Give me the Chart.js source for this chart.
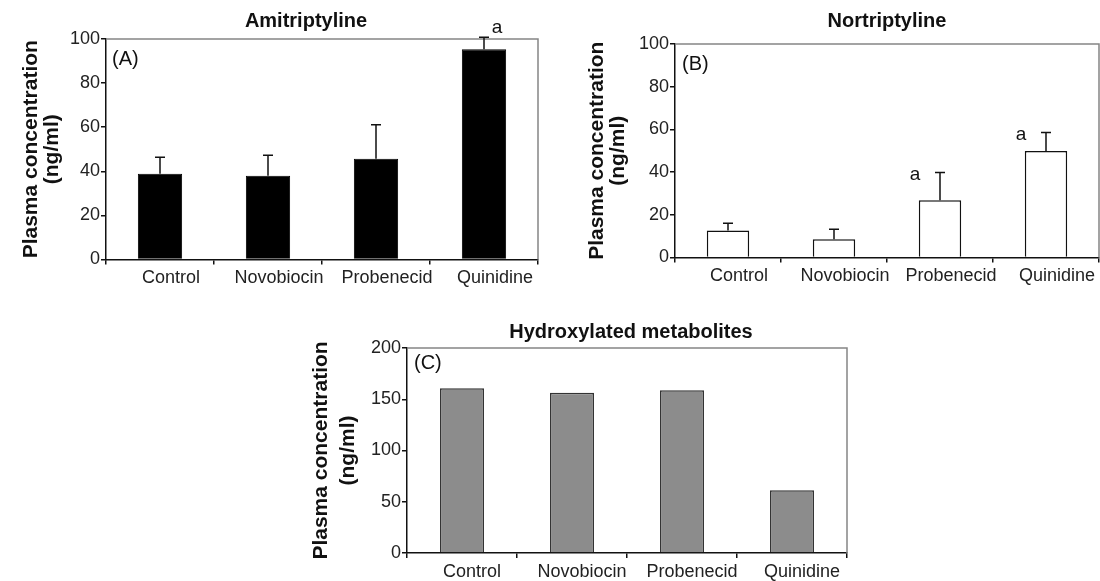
<!DOCTYPE html>
<html>
<head>
<meta charset="utf-8">
<script src="https://cdn.jsdelivr.net/npm/chart.js@4.4.1/dist/chart.umd.min.js"></script>
<style>
  body { margin: 0; background: #fff; overflow: hidden; }
  #wrap { position: relative; width: 1100px; height: 581px; overflow: hidden; }
  canvas { position: absolute; }
</style>
</head>
<body>
<div id="wrap">
  <canvas id="chartA" width="560" height="290" style="left:0;top:0"></canvas>
  <canvas id="chartB" width="540" height="290" style="left:560px;top:0"></canvas>
  <canvas id="chartC" width="580" height="291" style="left:280px;top:290px"></canvas>
</div>
<script>
var groups = ['Control', 'Novobiocin', 'Probenecid', 'Quinidine'];

// (A) amitriptyline, mean and SD (upper bar only)
var amiMean = [38.9, 38.0, 45.7, 95.3];
var amiErr = [7.5, 9.3, 15.4, 5.5];
var amiSig = ['', '', '', 'a'];

// (B) nortriptyline
var norMean = [12.6, 8.6, 26.8, 49.9];
var norErr = [3.4, 4.6, 13.0, 8.6];
var norSig = ['', '', 'a', 'a'];

// (C) hydroxylated metabolites, no error bars
var hydMean = [160.7, 156.4, 158.7, 61.2];

var FONT = '"Liberation Sans", Arial, Helvetica, sans-serif';
Chart.defaults.font.family = FONT;

// frame, error bars, "a" marks, panel letter and title
var extras = {
  id: 'extras',
  afterDatasetsDraw: function(chart, args, o) {
    var ctx = chart.ctx, area = chart.chartArea;
    var xs = chart.scales.x, ys = chart.scales.y;
    ctx.save();
    ctx.strokeStyle = '#858585';
    ctx.lineWidth = 1.5;
    ctx.beginPath();
    ctx.moveTo(area.left, area.top);
    ctx.lineTo(area.right, area.top);
    ctx.lineTo(area.right, area.bottom);
    ctx.stroke();

    if (o.err) {
      ctx.strokeStyle = '#111';
      ctx.fillStyle = '#111';
      ctx.lineWidth = 1.5;
      ctx.font = '19px ' + FONT;
      ctx.textAlign = 'center';
      ctx.textBaseline = 'middle';
      o.mean.forEach(function(m, i) {
        var cx = xs.getPixelForValue(i);
        var y0 = ys.getPixelForValue(m);
        var y1 = ys.getPixelForValue(m + o.err[i]);
        ctx.beginPath();
        ctx.moveTo(cx, y0);
        ctx.lineTo(cx, y1);
        ctx.moveTo(cx - 5, y1);
        ctx.lineTo(cx + 5, y1);
        ctx.stroke();
        if (o.sig && o.sig[i]) {
          ctx.fillText(o.sig[i], cx + o.sigDx, y1 + o.sigDy);
        }
      });
    }

    ctx.fillStyle = '#111';
    ctx.font = '20px ' + FONT;
    ctx.textAlign = 'left';
    ctx.textBaseline = 'middle';
    ctx.fillText(o.panel, area.left + o.panelDx, area.top + o.panelDy);

    ctx.font = 'bold 20px ' + FONT;
    ctx.textAlign = 'center';
    ctx.fillText(o.title, (area.left + area.right) / 2 + o.titleDx, o.titleY);
    ctx.restore();
  }
};

function makeChart(id, values, bar, yMax, yStep, box, titleOpt, extraOpts) {
  return new Chart(document.getElementById(id), {
    type: 'bar',
    data: {
      labels: groups,
      datasets: [{
        data: values,
        backgroundColor: bar.fill,
        borderColor: bar.line,
        borderWidth: bar.width,
        barPercentage: bar.pct,
        categoryPercentage: 1
      }]
    },
    options: {
      responsive: false,
      animation: false,
      layout: { padding: { top: box.top, right: box.right, left: 0, bottom: 0 } },
      plugins: {
        legend: { display: false },
        tooltip: { enabled: false },
        extras: extraOpts
      },
      scales: {
        x: {
          offset: true,
          grid: { offset: true, drawOnChartArea: false, tickLength: 5, color: '#111', lineWidth: 1.5 },
          border: { color: '#111', width: 1.5 },
          ticks: { color: '#222', font: { size: 18 }, padding: 3, maxRotation: 0, autoSkip: false,
                   labelOffset: box.lo },
          afterFit: function(s) { s.height = box.xh; }
        },
        y: {
          min: 0,
          max: yMax,
          ticks: { stepSize: yStep, color: '#222', font: { size: 18 }, padding: 1 },
          grid: { drawOnChartArea: false, tickLength: 5, color: '#111', lineWidth: 1.5 },
          border: { color: '#111', width: 1.5 },
          title: {
            display: true,
            text: ['Plasma concentration', '(ng/ml)'],
            color: '#111',
            font: { size: 21, weight: 'bold', lineHeight: titleOpt.lh },
            padding: { top: titleOpt.pad, bottom: 0 }
          },
          afterFit: function(s) { s.width = box.yw; }
        }
      }
    },
    plugins: [extras]
  });
}

makeChart('chartA', amiMean,
  { fill: '#000', line: '#000', width: 1, pct: 0.41 },
  100, 20,
  { top: 39, right: 22, xh: 30.5, yw: 106, lo: 11 },
  { lh: 1, pad: 21.2 },
  { err: amiErr, mean: amiMean, sig: amiSig, sigDx: 13, sigDy: -9,
    panel: '(A)', panelDx: 6, panelDy: 20, title: 'Amitriptyline', titleDx: -16, titleY: 21 });

makeChart('chartB', norMean,
  { fill: '#fff', line: '#111', width: 1.5, pct: 0.40 },
  100, 20,
  { top: 44, right: 1, xh: 32.5, yw: 115, lo: 11 },
  { lh: 1, pad: 26.5 },
  { err: norErr, mean: norMean, sig: norSig, sigDx: -25, sigDy: 2,
    panel: '(B)', panelDx: 7, panelDy: 20, title: 'Nortriptyline', titleDx: 0, titleY: 21 });

makeChart('chartC', hydMean,
  { fill: '#8c8c8c', line: '#333', width: 1.5, pct: 0.40 },
  200, 50,
  { top: 58, right: 13, xh: 28, yw: 127, lo: 10 },
  { lh: 1.25, pad: 28.5 },
  { panel: '(C)', panelDx: 7, panelDy: 15, title: 'Hydroxylated metabolites', titleDx: 4, titleY: 42 });
</script>
</body>
</html>
